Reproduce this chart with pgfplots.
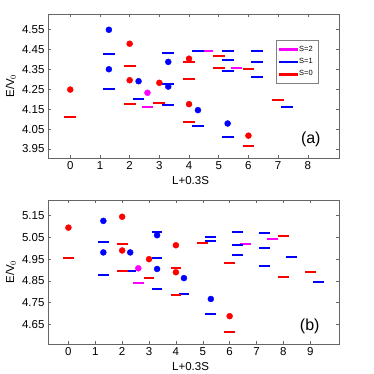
\documentclass[border=0pt]{standalone}
\usepackage{fontspec}
\setmainfont{Liberation Sans}
\usepackage{pgfplots}
\pgfplotsset{compat=1.18}
\definecolor{mred}{RGB}{255,0,0}
\definecolor{mblue}{RGB}{0,0,255}
\definecolor{mmag}{RGB}{255,0,255}
% short horizontal bar used for the levels
\pgfdeclareplotmark{hbara}{\pgfpathrectangle{\pgfpoint{-5.9pt}{-1pt}}{\pgfpoint{11.8pt}{2pt}}\pgfusepathqfill}
\pgfdeclareplotmark{hbarb}{\pgfpathrectangle{\pgfpoint{-5.4pt}{-1pt}}{\pgfpoint{10.8pt}{2pt}}\pgfusepathqfill}
\pgfplotsset{
  panel/.style={
    scale only axis, width=291pt, height=144pt,
    axis line style={gray!80!black, line width=0.5pt},
    tick style={gray!80!black, line width=0.5pt},
    tick align=inside, major tick length=3pt,
    xtick pos=both, ytick pos=both,
    ticklabel style={font=\fontsize{11.5}{13}\selectfont, text=black},
    label style={font=\fontsize{11.5}{13}\selectfont},
    /pgf/number format/assume math mode=true,
    xlabel={L+0.3S}, ylabel={E/V$_0$},
    xlabel style={at={(axis description cs:0.49,-0.158)}, anchor=center},
    ylabel style={at={(axis description cs:-0.128,0.5)}, anchor=center},
    yticklabel style={/pgf/number format/.cd, fixed, fixed zerofill, precision=2},
  },
  lvl/.style={only marks, mark=#1, forget plot},
  dot/.style={only marks, mark=*, mark size=3pt, forget plot},
}
\begin{document}
\begin{tikzpicture}
\path[use as bounding box] (0,0) rectangle (374pt,-373pt);

% panel (a)
\begin{axis}[panel, at={(48pt,-158pt)}, anchor=south west,
  xmin=-0.75, xmax=9.05, ymin=3.905, ymax=4.627,
  xtick={0,1,...,8}, ytick={3.95,4.05,...,4.56},
  legend style={at={(rel axis cs:0.782,0.82)}, anchor=north west,
    draw=gray, font=\fontsize{7.5}{9}\selectfont, row sep=1.5pt,
    inner xsep=3pt, inner ysep=4pt},
  legend cell align=left,
  legend image code/.code={\fill (0pt,-0.8pt) rectangle (18pt,0.8pt);}]
\addlegendimage{mmag}
\addlegendimage{mblue}
\addlegendimage{mred}
\addplot[lvl=hbara, mmag] coordinates {(2.6,4.163)(4.6,4.44)(5.6,4.358)};
\addplot[lvl=hbara, mblue] coordinates {(1.3,4.425)(1.3,4.252)(2.3,4.2)(3.3,4.432)(3.3,4.278)(3.3,4.173)
  (4.3,4.443)(4.3,4.066)(5.3,4.443)(5.3,4.397)(5.3,4.342)(5.3,4.011)(6.3,4.443)(6.3,4.385)(6.3,4.313)(7.3,4.161)};
\addplot[lvl=hbara, mred] coordinates {(0,4.113)(2,4.365)(2,4.177)(3,4.181)(4,4.388)(4,4.30)(4,4.086)
  (5,4.416)(5,4.358)(6,4.35)(6,3.965)(7,4.196)};
\addplot[dot, mred] coordinates {(0,4.248)(2,4.478)(2,4.295)(3,4.282)(4,4.403)(4,4.175)(6,4.017)};
\addplot[dot, mblue] coordinates {(1.3,4.548)(1.3,4.35)(2.3,4.29)(3.3,4.387)(3.3,4.263)(4.3,4.145)(5.3,4.078)};
\addplot[dot, mmag] coordinates {(2.6,4.232)};
\legend{S=2,S=1,S=0}
\node[font=\fontsize{16}{18}\selectfont] at (axis cs:8.1,4.0) {(a)};
\end{axis}

% panel (b)
\begin{axis}[panel, at={(48pt,-344pt)}, anchor=south west,
  xmin=-0.76, xmax=10.07, ymin=4.56, ymax=5.222,
  xtick={0,1,...,9}, ytick={4.65,4.75,...,5.16}]
\addplot[lvl=hbarb, mmag] coordinates {(2.6,4.839)(6.6,5.022)(7.6,5.043)};
\addplot[lvl=hbarb, mblue] coordinates {(1.3,5.027)(1.3,4.879)(2.3,4.897)(3.3,5.074)(3.3,4.955)(3.3,4.813)
  (4.3,4.789)(5.3,5.054)(5.3,5.032)(5.3,4.697)(6.3,5.074)(6.3,5.014)(6.3,4.97)
  (7.3,5.069)(7.3,5.002)(7.3,4.917)(8.3,4.961)(9.3,4.845)};
\addplot[lvl=hbarb, mred] coordinates {(0,4.955)(2,5.022)(2,4.895)(3,4.862)(4,4.909)(4,4.786)(5,5.023)
  (6,4.932)(6,4.615)(8,5.057)(8,4.866)(9,4.89)};
\addplot[dot, mred] coordinates {(0,5.095)(2,5.145)(2,4.99)(3,4.95)(4,5.014)(4,4.89)(6,4.688)};
\addplot[dot, mblue] coordinates {(1.3,5.126)(1.3,4.981)(2.3,4.981)(3.3,5.06)(3.3,4.905)(4.3,4.863)(5.3,4.767)};
\addplot[dot, mmag] coordinates {(2.6,4.908)};
\node[font=\fontsize{16}{18}\selectfont] at (axis cs:8.98,4.64) {(b)};
\end{axis}
\end{tikzpicture}
\end{document}
